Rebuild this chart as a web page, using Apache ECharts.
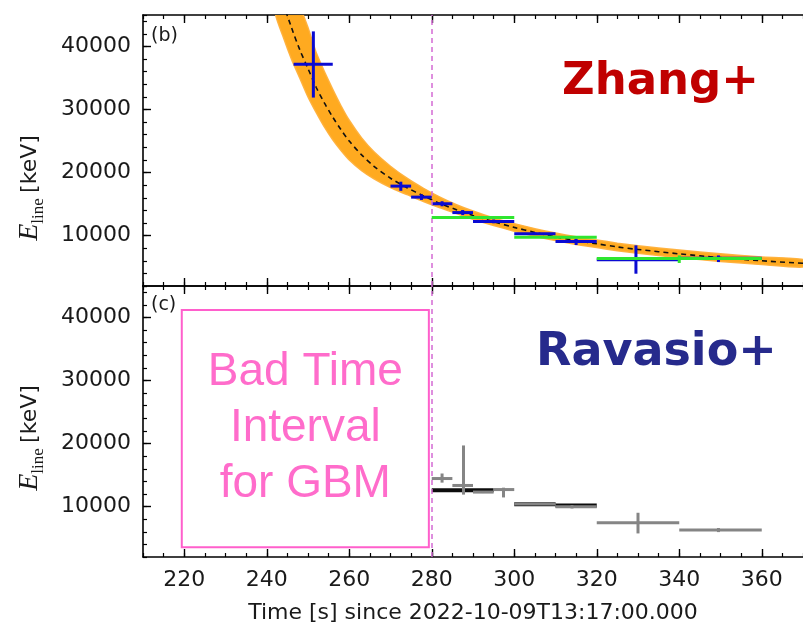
<!DOCTYPE html>
<html>
<head>
<meta charset="utf-8">
<script src="https://cdn.jsdelivr.net/npm/echarts@6/dist/echarts.min.js"></script>
<style>
  html, body { margin: 0; padding: 0; background: #fff; }
  #chart { width: 803px; height: 628px; }
</style>
</head>
<body>
<div id="chart"></div>
<script>
// ---- data -------------------------------------------------------------
// Time axis [s] and energy axis [keV]
const X_MIN = 210, X_MAX = 370;
const Y_MIN = 2000, Y_MAX = 45000;
const xTickLabels = [220, 240, 260, 280, 300, 320, 340, 360];
const yTickLabels = [10000, 20000, 30000, 40000];

// Power-law model: sample times, best fit and credible band
const modelT     = [242, 244, 246, 248, 250, 252, 254, 256, 258, 260, 263, 266, 270, 274, 278, 282, 286, 290, 295, 300, 305, 310, 315, 320, 325, 330, 340, 350, 360, 370];
const modelBest  = [54000, 47000, 43000, 39500, 36500, 33500, 31000, 28800, 26800, 25000, 22800, 21000, 19100, 17600, 16300, 15100, 14100, 13200, 12200, 11300, 10500, 9800, 9200, 8700, 8200, 7800, 7100, 6500, 6000, 5600];
const modelLower = [45500, 41500, 38000, 35000, 32000, 29500, 27200, 25200, 23500, 22000, 20300, 19000, 17600, 16500, 15400, 14400, 13500, 12600, 11600, 10700, 9900, 9200, 8600, 8100, 7600, 7200, 6500, 5900, 5400, 5000];
const modelUpper = [62000, 56000, 50500, 46500, 43000, 39000, 36000, 33200, 30600, 28300, 25500, 23300, 21000, 19100, 17500, 16100, 14900, 13900, 12800, 11900, 11100, 10400, 9800, 9300, 8800, 8400, 7700, 7100, 6600, 6200];

// Line energies: [t start, t end, t centre, E, E low, E high]
const zhangBlue = [
  [246.5, 256, 251.3, 37200, 31900, 42400],
  [270, 275, 272.5, 17850, 17100, 18550],
  [275, 280, 277.5, 16100, 15650, 16550],
  [280, 285, 282.5, 15050, 14650, 15450],
  [285, 290, 287.5, 13650, 13250, 14050],
  [290, 300, 295, 12250, 11950, 12550],
  [300, 310, 305, 10300, 10100, 10500],
  [310, 320, 315, 9050, 8500, 9500],
  [320, 340, 329.5, 6150, 3950, 8450],
  [340, 360, 349.5, 6400, 5800, 6850]
];
const zhangGreen = [
  [280, 300, 290, 12850, 12650, 13050],
  [300, 320, 310, 9750, 9550, 9950],
  [320, 360, 340, 6350, 5650, 6850]
];
const ravasioGray = [
  [280, 285, 282.5, 14450, 13800, 15250],
  [285, 290, 287.7, 13350, 11900, 19700],
  [290, 295, 292.5, 12300, 12150, 12450],
  [295, 300, 297.4, 12700, 11450, 13000],
  [300, 310, 305.5, 10400, 10250, 10550],
  [310, 320, 314, 9970, 9700, 10250],
  [320, 340, 330, 7440, 5740, 9020],
  [340, 360, 349.5, 6270, 5950, 6600]
];
// Black reference bins: [t start, t end, E]
const ravasioBlack = [
  [280, 295, 12600],
  [300, 310, 10380],
  [310, 320, 10170]
];
// GBM bad time interval box: [t start, t end, E low, E high]
const badInterval = [219.4, 279.3, 3530, 41200];
const boundaryTime = 280;

// ---- helpers ------------------------------------------------------------
const tickFont = { fontFamily: 'DejaVu Sans', fontSize: 22, color: '#1a1a1a' };
const plainNumber = v => String(v);

function xAxesFor(gridIndex, withLabels) {
  const common = { type: 'value', gridIndex, min: X_MIN, max: X_MAX, splitLine: { show: false } };
  return [
    Object.assign({}, common, {
      position: 'bottom', interval: 5,
      axisLine: { show: true, onZero: false, lineStyle: { color: '#000', width: 1.6 } },
      axisTick: { show: true, inside: true, length: 4, lineStyle: { color: '#000', width: 1.2 } },
      axisLabel: withLabels
        ? Object.assign({ show: true, margin: 12, customValues: xTickLabels, formatter: plainNumber }, tickFont)
        : { show: false },
      name: withLabels ? 'Time [s] since 2022-10-09T13:17:00.000' : '',
      nameLocation: 'middle', nameGap: 45,
      nameTextStyle: { fontFamily: 'DejaVu Sans', fontSize: 22, color: '#1a1a1a' }
    }),
    Object.assign({}, common, {
      position: 'bottom',
      axisLine: { show: false, onZero: false },
      axisTick: { show: true, inside: true, length: 8, customValues: xTickLabels, lineStyle: { color: '#000', width: 1.4 } },
      axisLabel: { show: false }
    }),
    Object.assign({}, common, {
      position: 'top', interval: 5,
      axisLine: { show: true, onZero: false, lineStyle: { color: '#000', width: 1.6 } },
      axisTick: { show: true, inside: true, length: 4, lineStyle: { color: '#000', width: 1.2 } },
      axisLabel: { show: false }
    }),
    Object.assign({}, common, {
      position: 'top',
      axisLine: { show: false, onZero: false },
      axisTick: { show: true, inside: true, length: 8, customValues: xTickLabels, lineStyle: { color: '#000', width: 1.4 } },
      axisLabel: { show: false }
    })
  ];
}

function yAxesFor(gridIndex) {
  const common = { type: 'value', gridIndex, min: Y_MIN, max: Y_MAX, position: 'left', splitLine: { show: false } };
  return [
    Object.assign({}, common, {
      interval: 2000,
      axisLine: { show: true, onZero: false, lineStyle: { color: '#000', width: 1.6 } },
      axisTick: { show: true, inside: true, length: 4, lineStyle: { color: '#000', width: 1.2 } },
      axisLabel: Object.assign({ show: true, margin: 12, customValues: yTickLabels, formatter: plainNumber }, tickFont)
    }),
    Object.assign({}, common, {
      axisLine: { show: false, onZero: false },
      axisTick: { show: true, inside: true, length: 8, customValues: yTickLabels, lineStyle: { color: '#000', width: 1.4 } },
      axisLabel: { show: false }
    })
  ];
}

function errorBars(data, color, width, xIdx, yIdx, z) {
  return {
    type: 'custom', xAxisIndex: xIdx, yAxisIndex: yIdx, clip: true, z,
    data,
    encode: { x: [0, 1, 2], y: [3, 4, 5] },
    renderItem(params, api) {
      const v = api.value(3);
      const a = api.coord([api.value(0), v]);
      const b = api.coord([api.value(1), v]);
      const c = api.coord([api.value(2), api.value(4)]);
      const d = api.coord([api.value(2), api.value(5)]);
      const style = { stroke: color, lineWidth: width, fill: null };
      return {
        type: 'group',
        children: [
          { type: 'line', shape: { x1: a[0], y1: a[1], x2: b[0], y2: b[1] }, style },
          { type: 'line', shape: { x1: c[0], y1: c[1], x2: d[0], y2: d[1] }, style }
        ]
      };
    }
  };
}

function segments(data, color, width, xIdx, yIdx, z) {
  return {
    type: 'custom', xAxisIndex: xIdx, yAxisIndex: yIdx, clip: true, z,
    data,
    encode: { x: [0, 1], y: 2 },
    renderItem(params, api) {
      const a = api.coord([api.value(0), api.value(2)]);
      const b = api.coord([api.value(1), api.value(2)]);
      return { type: 'line', shape: { x1: a[0], y1: a[1], x2: b[0], y2: b[1] }, style: { stroke: color, lineWidth: width } };
    }
  };
}

// Credible band as one filled polygon: lower edge forward, upper edge back
const bandData = modelT.map((t, i) => [t, modelLower[i], modelUpper[i]]);
const bandSeries = {
  type: 'custom', xAxisIndex: 0, yAxisIndex: 0, clip: true, z: 1,
  data: bandData,
  encode: { x: 0, y: [1, 2] },
  renderItem(params, api) {
    if (params.dataIndex !== 0) return null;
    const lower = bandData.map(d => api.coord([d[0], d[1]]));
    const upper = bandData.map(d => api.coord([d[0], d[2]])).reverse();
    return {
      type: 'polygon',
      shape: { points: lower.concat(upper), smooth: 0.2 },
      style: { fill: '#ffa514', stroke: '#ffb03a', lineWidth: 1.5, opacity: 0.95 }
    };
  }
};

const boundaryLine = {
  silent: true, symbol: ['none', 'none'],
  lineStyle: { color: '#d36bd3', type: [5, 4], width: 1.5 },
  label: { show: false },
  data: [{ xAxis: boundaryTime }]
};

const yNameRich = {
  e: { fontFamily: 'Liberation Serif', fontStyle: 'italic', fontSize: 28, fill: '#1a1a1a', lineHeight: 30 },
  sub: { fontFamily: 'Liberation Serif', fontSize: 17, fill: '#1a1a1a', lineHeight: 17, verticalAlign: 'top', padding: [15, 2, 0, 0] },
  u: { fontFamily: 'DejaVu Sans', fontSize: 22, fill: '#1a1a1a', lineHeight: 30 }
};
function yName(cx, cy) {
  return {
    type: 'text', x: cx, y: cy, rotation: Math.PI / 2,
    style: { text: '{e|E}{sub|line} {u|[keV]}', rich: yNameRich, align: 'center', verticalAlign: 'middle' }
  };
}

// ---- chart --------------------------------------------------------------
const chart = echarts.init(document.getElementById('chart'), null, { renderer: 'canvas' });

const xAxes = xAxesFor(0, false).concat(xAxesFor(1, true));   // top panel: 0..3, bottom panel: 4..7
const yAxes = yAxesFor(0).concat(yAxesFor(1));                // top panel: 0..1, bottom panel: 2..3

const bestFit = modelT.map((t, i) => [t, modelBest[i]]);

chart.setOption({
  animation: false,
  backgroundColor: '#ffffff',
  grid: [
    { left: 143, right: 0, top: 15, height: 271 },
    { left: 143, right: 0, top: 286, height: 271 }
  ],
  xAxis: xAxes,
  yAxis: yAxes,
  series: [
    bandSeries,
    // best-fit model
    {
      type: 'line', xAxisIndex: 0, yAxisIndex: 0, data: bestFit,
      symbol: 'none', smooth: 0.3, clip: true, z: 3,
      lineStyle: { color: '#111', width: 1.6, type: [5, 4] },
      markLine: boundaryLine
    },
    errorBars(zhangBlue, '#0a0ad2', 3, 0, 0, 4),
    errorBars(zhangGreen, '#2fe62f', 3, 0, 0, 5),

    // bottom panel
    segments(ravasioBlack, '#0d0d0d', 4, 4, 2, 4),
    Object.assign(errorBars(ravasioGray, '#858585', 3, 4, 2, 5), {
      markLine: boundaryLine,
      markArea: {
        silent: true,
        itemStyle: { color: 'rgba(0,0,0,0)', borderColor: '#ff5fcc', borderWidth: 2 },
        label: {
          show: true, position: 'inside',
          formatter: 'Bad Time\nInterval\nfor GBM',
          fontFamily: 'Liberation Sans', fontSize: 46, lineHeight: 56,
          color: '#ff6ccb', align: 'center', padding: [10, 0, 0, 0]
        },
        data: [[
          { coord: [badInterval[0], badInterval[3]] },
          { coord: [badInterval[1], badInterval[2]] }
        ]]
      }
    })
  ],
  graphic: [
    yName(30, 188),
    yName(30, 438),
    { type: 'text', left: 151, top: 27, style: { text: '(b)', fontFamily: 'DejaVu Sans', fontSize: 19, fill: '#1a1a1a' } },
    { type: 'text', left: 151, top: 296, style: { text: '(c)', fontFamily: 'DejaVu Sans', fontSize: 19, fill: '#1a1a1a' } },
    { type: 'text', left: 562, top: 60, style: { text: 'Zhang+', fontFamily: 'DejaVu Sans', fontWeight: 'bold', fontSize: 45, fill: '#c00000' } },
    { type: 'text', left: 536, top: 330, style: { text: 'Ravasio+', fontFamily: 'DejaVu Sans', fontWeight: 'bold', fontSize: 46, fill: '#262a8c' } }
  ]
});
</script>
</body>
</html>
